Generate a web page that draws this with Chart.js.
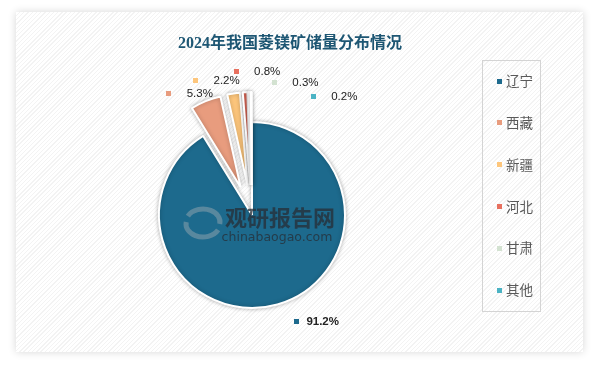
<!DOCTYPE html>
<html>
<head>
<meta charset="utf-8">
<script src="https://cdn.jsdelivr.net/npm/chart.js@4.4.1/dist/chart.umd.min.js"></script>
<style>
  html, body { margin:0; padding:0; }
  body { width:597px; height:365px; overflow:hidden; position:relative; background:#fff; }
  #card { position:absolute; left:16px; top:12px; width:567px; height:340px;
    background: repeating-linear-gradient(-45deg, #ffffff 0px, #ffffff 2px, #f3f3f3 2px, #f3f3f3 3px);
    box-shadow: 0 0 8px rgba(0,0,0,0.16); }
  #wrap { position:absolute; left:0; top:0; width:597px; height:365px; }
</style>
</head>
<body>
<div id="card"></div>
<div id="wrap"><canvas id="chart_mg" width="597" height="365"></canvas></div>
<script>
const chartTitle = '2024年我国菱镁矿储量分布情况';
const regions = ['辽宁', '西藏', '新疆', '河北', '甘肃', '其他'];
const shares = [91.2, 5.3, 2.2, 0.8, 0.3, 0.2];
const colors = ['#1d6a8d', '#e89c7e', '#fdc67c', '#e8705f', '#d3e2d1', '#4bb3c4'];

// how far each slice is pulled out, and where its label sits (relative to slice edge)
const explode = [0, 30, 30, 30, 30, 30];
const labelNudge = [[19, 17], [-37, -8], [-38, -13], [-9, -21], [25, -10], [62, 4]];
const labelGap = [10, 18, 18, 18, 18, 18];

const explodedPie = {
	id: 'explodedPie',
	beforeDatasetDraw(chart, args) {
		const ctx = chart.ctx;
		ctx.save();
		ctx.shadowColor = 'rgba(0,0,0,0.28)';
		ctx.shadowBlur = 4;
		args.meta.data.forEach(function(arc, i){
			const mid = (arc.startAngle + arc.endAngle) / 2;
			ctx.save();
			ctx.translate(Math.cos(mid) * explode[i], Math.sin(mid) * explode[i]);
			arc.draw(ctx);
			ctx.restore();
		});
		ctx.restore();
		return false;
	},
	afterDraw(chart) {
		const ctx = chart.ctx;
		const meta = chart.getDatasetMeta(0);

		// title
		ctx.save();
		ctx.font = 'bold 16px "Liberation Serif", "Noto Sans CJK SC"';
		ctx.fillStyle = '#1d5673';
		ctx.textAlign = 'center';
		ctx.textBaseline = 'middle';
		ctx.fillText(chartTitle, 290, 44);
		ctx.restore();

		// watermark
		ctx.save();
		ctx.strokeStyle = 'rgba(150,165,175,0.5)';
		ctx.lineWidth = 5;
		ctx.beginPath();
		ctx.ellipse(203, 224, 17, 13, 0, Math.PI * 0.15, Math.PI * 1.05);
		ctx.stroke();
		ctx.beginPath();
		ctx.ellipse(203, 222, 17, 13, 0, Math.PI * 1.15, Math.PI * 2.05);
		ctx.stroke();
		ctx.fillStyle = 'rgba(38,48,56,0.78)';
		ctx.textAlign = 'center';
		ctx.textBaseline = 'middle';
		ctx.font = 'bold 22px "Noto Sans CJK SC"';
		ctx.fillText('观研报告网', 280, 218);
		ctx.font = '12.5px "DejaVu Sans"';
		ctx.fillText('chinabaogao.com', 277, 238);
		ctx.restore();

		// data labels
		meta.data.forEach(function(arc, i){
			const mid = (arc.startAngle + arc.endAngle) / 2;
			const r = arc.outerRadius + explode[i];
			const sx = arc.x + Math.cos(mid) * r + labelNudge[i][0];
			const sy = arc.y + Math.sin(mid) * r + labelNudge[i][1];
			ctx.save();
			ctx.fillStyle = colors[i];
			ctx.fillRect(Math.round(sx - 2.5), Math.round(sy - 2.5), 5, 5);
			ctx.fillStyle = '#222';
			ctx.font = (i === 0 ? 'bold ' : '') + '11.5px "Liberation Sans", Arial';
			ctx.textBaseline = 'middle';
			ctx.textAlign = 'left';
			ctx.fillText(shares[i].toFixed(1) + '%', sx + labelGap[i], sy + 0.5);
			ctx.restore();
		});

		// legend
		ctx.save();
		ctx.strokeStyle = '#d4d4d4';
		ctx.lineWidth = 1;
		ctx.strokeRect(482.5, 60.5, 58, 251);
		ctx.font = '13.5px "Noto Sans CJK SC"';
		ctx.textBaseline = 'middle';
		regions.forEach(function(name, i){
			const y = 81 + i * 41.8;
			ctx.fillStyle = colors[i];
			ctx.fillRect(497, Math.round(y - 2.5), 5, 5);
			ctx.fillStyle = '#595959';
			ctx.fillText(name, 506, y);
		});
		ctx.restore();
	}
};

const chart_mg = new Chart(document.getElementById('chart_mg').getContext('2d'), {
	type: 'pie',
	data: {
		labels: regions,
		datasets: [{
			data: shares,
			backgroundColor: colors,
			borderColor: '#ffffff',
			borderWidth: 2,
			hoverOffset: 0
		}]
	},
	options: {
		responsive: false,
		animation: false,
		layout: { padding: { left: 158, right: 251, top: 121, bottom: 56 } },
		plugins: {
			legend: { display: false },
			title: { display: false },
			tooltip: { enabled: false }
		}
	},
	plugins: [explodedPie]
});
</script>
</body>
</html>
